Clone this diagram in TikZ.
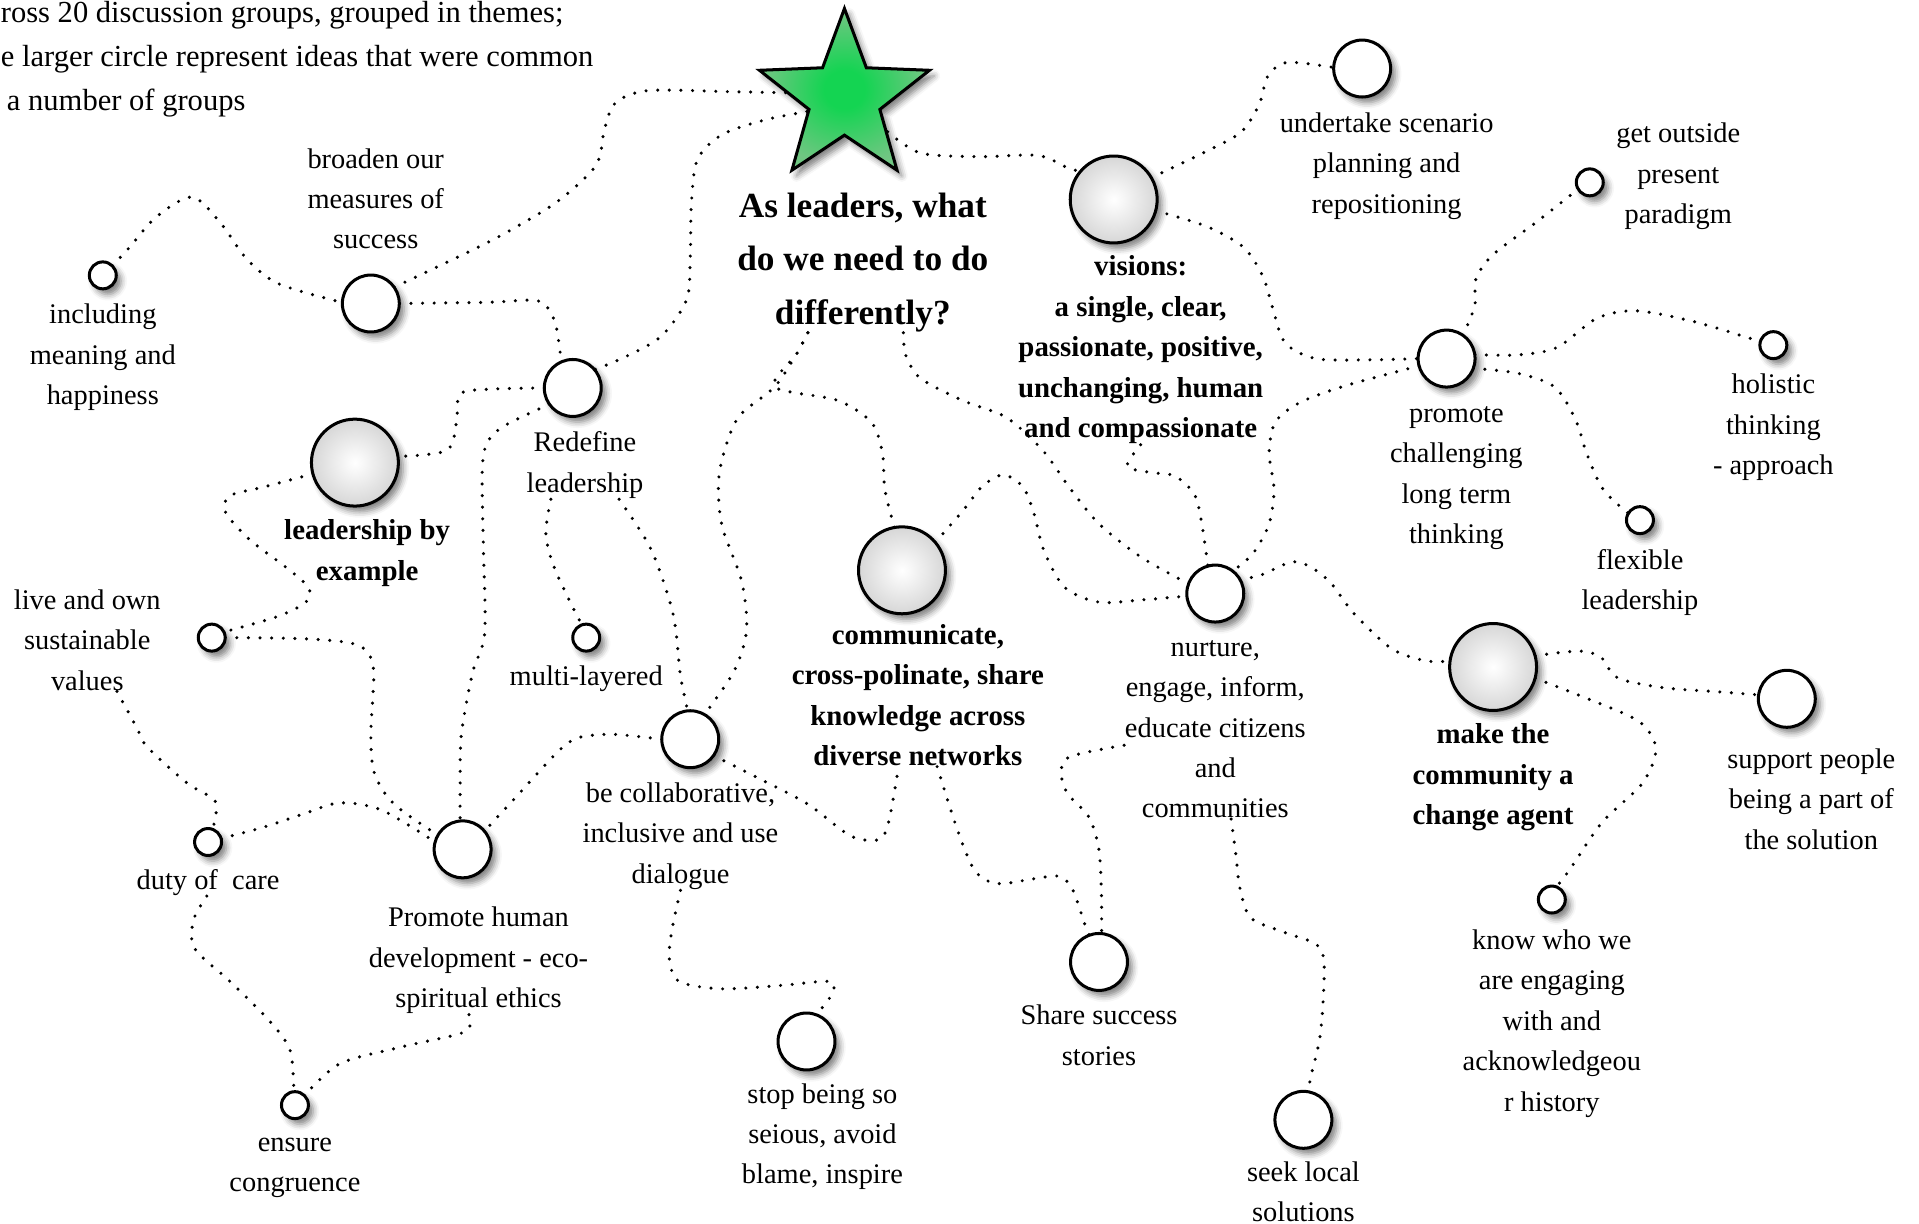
\documentclass[tikz,border=0pt]{standalone}
\usepackage{fontspec}
\setmainfont{Liberation Serif}
\usetikzlibrary{shapes.geometric, positioning, backgrounds, shadows.blur}

\definecolor{stargreen}{RGB}{112,198,130}
\definecolor{starcore}{RGB}{20,212,82}
\pgfdeclareradialshading{ballgray}{\pgfpoint{0bp}{0bp}}{%
  color(0bp)=(white); color(5bp)=(black!3); color(50bp)=(black!32)}
\pgfdeclareradialshading{starglow}{\pgfpoint{0bp}{0bp}}{%
  color(0bp)=(starcore); color(6bp)=(starcore); color(24bp)=(stargreen); color(50bp)=(stargreen)}

\begin{document}
\begin{tikzpicture}[
  x=0.01cm, y=-0.01cm,
  idea/.style={circle, draw, line width=0.7pt, inner sep=0pt, outer sep=0pt,
    blur shadow={shadow xshift=1.1pt, shadow yshift=-1.3pt, shadow blur radius=1.4pt, shadow opacity=50}},
  tiny/.style={idea, fill=white, minimum size=0.22cm},
  mid/.style={idea, fill=white, minimum size=0.465cm},
  theme/.style={idea, shade, shading=ballgray, minimum size=0.71cm},
  txt/.style={align=center, inner sep=0pt, font=\fontsize{6.6}{9.4}\selectfont,
    execute at begin node={\rule{0pt}{5pt}}},
  themetxt/.style={txt, font=\fontsize{6.7}{9.4}\selectfont\bfseries},
  qtxt/.style={align=center, inner sep=0pt, font=\fontsize{8.2}{12.4}\selectfont\bfseries,
    execute at begin node={\rule{0pt}{6.5pt}}},
  note/.style={align=left, inner sep=0pt, font=\fontsize{7.1}{10.3}\selectfont},
  link/.style={line width=0.8pt, line cap=round, dash pattern=on 0pt off 2.7pt}
]
\useasboundingbox (0,0) rectangle (1568,1000);

\node[note, anchor=north west] (intro) at (0,0) {ross 20 discussion groups, grouped in themes;\\e larger circle represent ideas that were common\\\hspace*{0.5mm}a number of groups};

% QUESTION
\node[star, star points=5, star point ratio=2.4, draw, line width=0.7pt, inner sep=0pt,
  minimum size=1.46cm, shade, shading=starglow,
  blur shadow={shadow xshift=1.1pt, shadow yshift=-1.3pt, shadow blur radius=1.4pt, shadow opacity=50}] (star) at (690,80) {};
\node[qtxt, anchor=north] (q) at (705,157) {As leaders, what\\do we need to do\\differently?};

% LEFT
\node[mid] (broad) at (303,248) {};
\node[txt, above=5.8pt of broad, xshift=0.4mm] (broadtxt) {broaden our\\measures of\\success};
\node[tiny] (incl) at (84,225) {};
\node[txt, below=3.3pt of incl] (incltxt) {including\\meaning and\\happiness};
\node[mid] (redef) at (468,317) {};
\node[txt, below=3.4pt of redef, xshift=1mm] (redeftxt) {Redefine\\leadership};
\node[theme] (lbe) at (290,378) {};
\node[themetxt, below=3pt of lbe, xshift=1mm] (lbetxt) {leadership by\\example};
\node[tiny] (live) at (173,521) {};
\node[txt, left=3mm of live, yshift=-0.2mm] (livetxt) {live and own\\sustainable\\values};
\node[tiny] (multi) at (479,521) {};
\node[txt, below=2.8pt of multi] (multitxt) {multi-layered};
\node[tiny] (duty) at (170,688) {};
\node[txt, below=2.6pt of duty] (dutytxt) {duty of\ \ care};
\node[mid] (phum) at (378,694) {};
\node[txt, below=6.6pt of phum, xshift=1.3mm] (phumtxt) {Promote human\\development - eco-\\spiritual ethics};
\node[tiny] (ensure) at (241,903) {};
\node[txt, below=4.3pt of ensure] (ensuretxt) {ensure\\congruence};

% MIDDLE
\node[mid] (collab) at (564,604) {};
\node[txt, below=3.3pt of collab, xshift=-0.8mm] (collabtxt) {be collaborative,\\inclusive and use\\dialogue};
\node[mid] (stop) at (659,851) {};
\node[txt, below=2.9pt of stop, xshift=1.3mm] (stoptxt) {stop being so\\seious, avoid\\blame, inspire};
\node[theme] (comm) at (737,466) {};
\node[themetxt, below=2.2pt of comm, xshift=1.3mm] (commtxt) {communicate,\\cross-polinate, share\\knowledge across\\diverse networks};
\node[mid] (nurt) at (993,485) {};
\node[txt, below=4pt of nurt] (nurttxt) {nurture,\\engage, inform,\\educate citizens\\and\\communities};
\node[mid] (share) at (898,786) {};
\node[txt, below=3.2pt of share] (sharetxt) {Share success\\stories};
\node[mid] (seek) at (1065,915) {};
\node[txt, below=2.9pt of seek] (seektxt) {seek local\\solutions};

% RIGHT
\node[theme] (vis) at (910,163) {};
\node[themetxt, below=2.8pt of vis, xshift=2.2mm] (vistxt) {visions:\\a single, clear,\\passionate, positive,\\unchanging, human\\and compassionate};
\node[mid] (undert) at (1113,56) {};
\node[txt, below=3.4pt of undert, xshift=2mm] (underttxt) {undertake scenario\\planning and\\repositioning};
\node[mid] (prom) at (1182,293) {};
\node[txt, below=4.3pt of prom, xshift=0.8mm] (promtxt) {promote\\challenging\\long term\\thinking};
\node[tiny] (getout) at (1299,149) {};
\node[txt, right=1mm of getout, yshift=0.5mm] (getouttxt) {get outside\\present\\paradigm};
\node[tiny] (holist) at (1449,282) {};
\node[txt, below=3.4pt of holist] (holisttxt) {holistic\\thinking\\- approach};
\node[tiny] (flex) at (1340,425) {};
\node[txt, below=3.4pt of flex] (flextxt) {flexible\\leadership};
\node[theme] (make) at (1220,545) {};
\node[themetxt, below=2.9pt of make] (maketxt) {make the\\community a\\change agent};
\node[mid] (supp) at (1460,571) {};
\node[txt, below=4.7pt of supp, xshift=2mm] (supptxt) {support people\\being a part of\\the solution};
\node[tiny] (know) at (1268,735) {};
\node[txt, below=3.7pt of know] (knowtxt) {know who we\\are engaging\\with and\\acknowledgeou\\r history};

\begin{pgfonlayer}{background}
% from the question
\draw[link] plot[smooth] coordinates {(star.175) (600,75) (530,74) (503,84) (494,105) (487,135) (455,165) (410,192) (370,212) (broad.35)};
\draw[link] plot[smooth] coordinates {(star.200) (625,98) (590,110) (570,130) (565,165) (564,210) (561,245) (540,275) (510,292) (redef.40)};
\draw[link] plot[smooth] coordinates {(star.-38) (752,125) (800,128) (848,127) (872,137) (vis.140)};
\draw[link] plot[smooth] coordinates {(q.-60) (740,290) (752,309) (786,327) (822,341) (852,368) (875,400) (898,428) (932,455) (nurt.160)};
\draw[link] plot[smooth] coordinates {(q.-128) (651,289) (633,316) (604,340) (592,368) (587,395) (590,430) (606,475) (610,515) (600,548) (collab.60)};
\draw[link] plot[smooth] coordinates {(q.-128) (651,289) (633,316) (684,327) (712,345) (721,370) (723,400) (comm.100)};

% visions and promote
\draw[link] plot[smooth] coordinates {(vis.30) (985,124) (1014,108) (1029,85) (1036,62) (1052,51) (undert.178)};
\draw[link] plot[smooth] coordinates {(vis.-15) (986,185) (1016,202) (1032,226) (1040,252) (1050,280) (1075,293) (1120,294) (prom.180)};
\draw[link] plot[smooth] coordinates {(prom.195) (1100,315) (1062,329) (1042,345) (1037,370) (1041,400) (1037,428) (1024,452) (nurt.52)};
\draw[link] plot[smooth] coordinates {(vistxt.south) (921,381) (940,386) (960,389) (976,404) (982,428) (nurt.105)};
\draw[link] plot[smooth] coordinates {(prom.55) (1205,250) (1206,228) (1220,208) (1256,181) (getout.-150)};
\draw[link] plot[smooth] coordinates {(prom.8) (1240,290) (1272,284) (1305,260) (1337,254) (1385,263) (holist.165)};
\draw[link] plot[smooth] coordinates {(prom.-20) (1240,305) (1270,316) (1287,342) (1297,372) (1310,400) (flex.150)};

% nurture and community
\draw[link] plot[smooth] coordinates {(comm.40) (787,417) (803,397) (820,388) (836,398) (845,420) (853,450) (870,480) (898,492) (935,490) (nurt.185)};
\draw[link] plot[smooth] coordinates {(nurt.30) (1030,470) (1056,459) (1072,464) (1088,477) (1106,501) (1137,530) (1165,540) (make.172)};
\draw[link] plot[smooth] coordinates {(make.15) (1290,532) (1308,537) (1322,554) (1360,562) (1400,565) (supp.172)};
\draw[link] plot[smooth] coordinates {(make.-15) (1300,572) (1340,590) (1353,612) (1342,640) (1309,672) (1283,710) (know.70)};
\draw[link] plot[smooth] coordinates {(nurttxt.190) (875,618) (867,630) (872,648) (890,668) (898,695) (900,733) (share.85)};
\draw[link] plot[smooth] coordinates {(nurttxt.-80) (1010,700) (1013,725) (1022,750) (1050,762) (1076,772) (1082,790) (1079,844) (1071,880) (seek.80)};

% left side
\draw[link] plot[smooth] coordinates {(incl.45) (105,203) (128,177) (157,161) (180,182) (202,212) (228,232) (broad.178)};
\draw[link] plot[smooth] coordinates {(broad.0) (400,247) (440,246) (453,262) (458,290) (redef.115)};
\draw[link] plot[smooth] coordinates {(redef.180) (400,318) (376,322) (373,345) (365,368) (lbe.8)};
\draw[link] plot[smooth] coordinates {(redef.-145) (412,348) (398,362) (394,385) (395,450) (396,518) (386,550) (377,600) (376,640) (phum.95)};
\draw[link] plot[smooth] coordinates {(redeftxt.-135) (446,436) (453,464) (473,506) (multi.100)};
\draw[link] plot[smooth] coordinates {(redeftxt.-45) (532,449) (550,502) (556,552) (collab.95)};
\draw[link] plot[smooth] coordinates {(lbe.195) (215,398) (188,405) (184,418) (204,441) (233,463) (252,480) (250,492) (226,504) (live.25)};
\draw[link] plot[smooth] coordinates {(live.0) (250,522) (292,527) (305,545) (303,600) (306,632) (322,657) (phum.150)};
\draw[link] plot[smooth] coordinates {(livetxt.-60) (112,595) (120,610) (153,640) (176,655) (duty.70)};
\draw[link] plot[smooth] coordinates {(duty.15) (215,676) (248,665) (278,656) (312,662) (phum.165)};
\draw[link] plot[smooth] coordinates {(collab.180) (500,600) (472,603) (455,615) (420,653) (phum.40)};
\draw[link] plot[smooth] coordinates {(dutytxt.-95) (158,752) (159,775) (188,802) (220,834) (237,858) (ensure.95)};
\draw[link] plot[smooth] coordinates {(phumtxt.-100) (380,843) (330,855) (278,869) (ensure.45)};

% collaborate and communicate
\draw[link] plot[smooth] coordinates {(collab.-35) (622,637) (660,657) (695,683) (718,686) (726,672) (commtxt.-105)};
\draw[link] plot[smooth] coordinates {(collabtxt.south) (549,760) (547,784) (555,802) (590,808) (640,805) (678,802) (680,812) (stop.70)};
\draw[link] plot[smooth] coordinates {(commtxt.-75) (783,680) (797,712) (815,722) (845,718) (865,716) (876,726) (887,757) (share.110)};
\end{pgfonlayer}

\end{tikzpicture}
\end{document}
